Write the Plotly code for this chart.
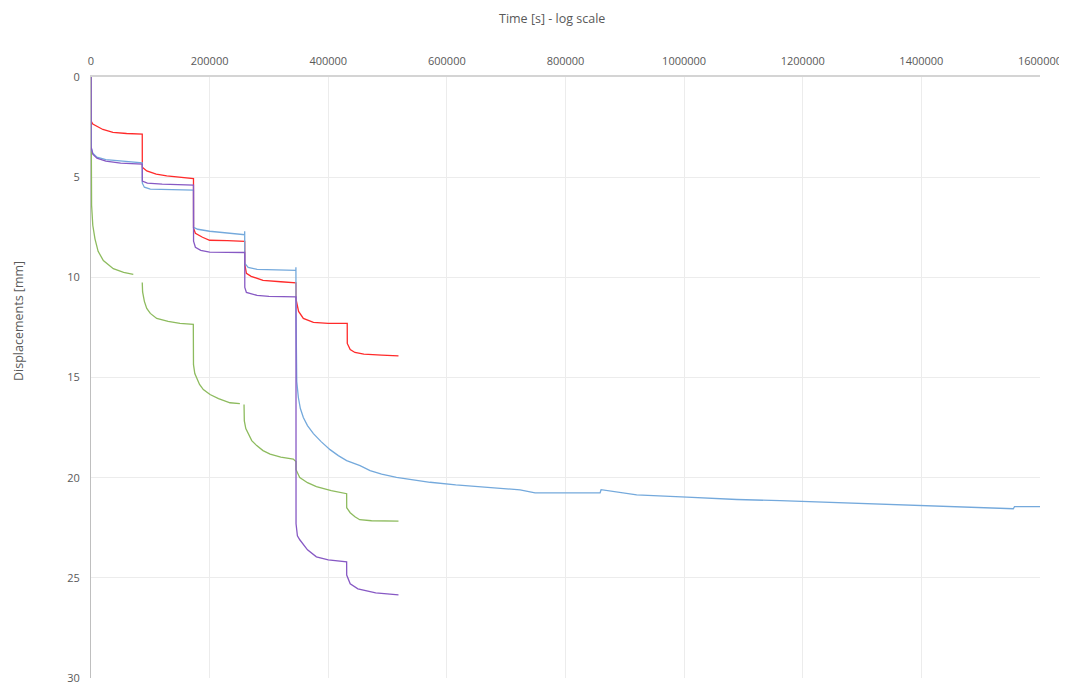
import plotly.graph_objects as go

# ---- data (time in s, displacement in mm) ----
t_green = [0, 100, 1000, 3000, 6700, 12000, 20800, 37600, 55000, 71300, None,
           86400, 87000, 90000, 94000, 100000, 110800, 130000, 150000, 172500,
           172800, 175000, 178200, 183000, 189400, 200700, 215000, 234400, 251000, None,
           258000, 258500, 261000, 265300, 271000, 279400, 290000, 302000, 320000, 341000, 345600,
           345700, 352000, 365000, 380000, 405000, 431000,
           431100, 434000, 437000, 445000, 453000, 473000, 518400]
d_green = [0, 3.6, 6.4, 7.4, 8.08, 8.7, 9.16, 9.57, 9.75, 9.85, None,
           10.26, 10.73, 11.2, 11.55, 11.8, 12.05, 12.2, 12.3, 12.35,
           14.36, 14.8, 15.02, 15.35, 15.6, 15.85, 16.05, 16.26, 16.3, None,
           16.35, 17.17, 17.55, 17.83, 18.15, 18.4, 18.65, 18.82, 18.97, 19.07, 19.2,
           19.6, 20.0, 20.25, 20.45, 20.65, 20.8,
           21.5, 21.65, 21.75, 21.95, 22.1, 22.15, 22.17]

t_red = [0, 200, 3000, 10000, 20000, 37000, 60000, 86400,
         86500, 94000, 110000, 127700, 150000, 172800,
         172900, 176000, 188000, 200000, 230000, 259200,
         259300, 262000, 270000, 290000, 320000, 345600,
         345700, 350000, 358000, 375000, 400000, 432000,
         432100, 437000, 445000, 460000, 490000, 518400]
d_red = [0, 2.2, 2.35, 2.45, 2.62, 2.76, 2.82, 2.85,
         4.5, 4.69, 4.85, 4.94, 5.0, 5.07,
         7.55, 7.8, 8.0, 8.15, 8.17, 8.2,
         9.35, 9.8, 9.95, 10.15, 10.22, 10.28,
         11.1, 11.7, 12.05, 12.25, 12.3, 12.3,
         13.3, 13.6, 13.75, 13.83, 13.88, 13.92]

t_blue = [0, 200, 3000, 10000, 25000, 50000, 86400,
          86500, 90000, 100000, 130000, 172800,
          172900, 180000, 200000, 230000, 259000, 259100,
          259300, 265000, 280000, 345400, 345500,
          345700, 346900, 349600, 353000, 358000, 365000, 375000, 388000, 403000, 417000, 431000,
          453600, 470500, 490000, 515000, 540000, 571700, 615000, 661600, 723400, 748700,
          858300, 860000, 920000, 1004600, 1089000, 1162000,
          1300000, 1450000, 1555000, 1557000, 1600000]
d_blue = [0, 3.5, 3.8, 4.0, 4.12, 4.2, 4.28,
          5.3, 5.5, 5.6, 5.63, 5.65,
          7.5, 7.6, 7.7, 7.8, 7.87, 7.7,
          9.3, 9.5, 9.6, 9.65, 9.5,
          12.0, 15.2, 16.0, 16.55, 17.0, 17.4, 17.8, 18.2, 18.6, 18.9, 19.15,
          19.4, 19.65, 19.82, 19.98, 20.1, 20.23, 20.36, 20.48, 20.61, 20.76,
          20.76, 20.6, 20.86, 20.97, 21.09, 21.15,
          21.3, 21.45, 21.55, 21.45, 21.45]

t_purple = [0, 200, 3000, 10000, 25000, 50000, 86400,
            86500, 95000, 120000, 172800,
            172900, 176000, 185000, 200000, 259200,
            259300, 262000, 280000, 300000, 345600,
            345700, 348000, 352000, 365000, 380000, 400000, 431000,
            431100, 437000, 450000, 480000, 518400]
d_purple = [0, 3.5, 3.85, 4.05, 4.2, 4.3, 4.35,
            5.2, 5.3, 5.35, 5.4,
            8.2, 8.5, 8.65, 8.74, 8.76,
            10.5, 10.75, 10.9, 10.95, 10.97,
            22.3, 22.9, 23.1, 23.6, 23.95, 24.1, 24.2,
            24.86, 25.3, 25.55, 25.75, 25.85]

x_ticks = [0, 200000, 400000, 600000, 800000, 1000000, 1200000, 1400000, 1600000]
y_ticks = [0, 5, 10, 15, 20, 25, 30]

series = [
    ("green", t_green, d_green, "#8dbb5e"),
    ("red", t_red, d_red, "#ff2a2a"),
    ("blue", t_blue, d_blue, "#74a9dc"),
    ("purple", t_purple, d_purple, "#8759c4"),
]

fig = go.Figure()
for name, t, d, c in series:
    fig.add_trace(go.Scatter(x=t, y=d, mode="lines", name=name,
                             line=dict(color=c, width=1.3),
                             connectgaps=False, showlegend=False))

font = dict(family="Open Sans, Liberation Sans, sans-serif", size=11, color="#595959")

# page body has an 8px margin, compensate so the plot area sits at
# x 91..1040 and y 77..678 in the window
fig.update_layout(
    width=1059, height=678,
    margin=dict(l=83, r=27, t=69, b=8, autoexpand=False),
    paper_bgcolor="white", plot_bgcolor="white",
    font=font,
    xaxis=dict(side="top", range=[0, 1600000], tickvals=x_ticks,
               ticktext=[str(v) for v in x_ticks],
               showgrid=True, gridcolor="#ececec", gridwidth=1,
               showline=True, linecolor="#d4d4d4", linewidth=2,
               ticks="", zeroline=False, tickfont=font, ticklabelstandoff=6,
               ticklabeloverflow="allow", automargin=False),
    yaxis=dict(range=[30, 0], tickvals=y_ticks,
               showgrid=True, gridcolor="#ececec", gridwidth=1,
               showline=True, linecolor="#bfbfbf", linewidth=1,
               ticks="", zeroline=False, tickfont=font, ticklabelstandoff=8,
               ticklabeloverflow="allow", automargin=False),
    annotations=[
        dict(text="Time [s] - log scale", xref="paper", yref="paper",
             x=(552 - 91) / 949, y=1 + (77 - 18) / 601, showarrow=False,
             xanchor="center", yanchor="middle", font=dict(font, size=12.5)),
        dict(text="Displacements [mm]", xref="paper", yref="paper",
             x=-(91 - 18) / 949, y=1 - (321 - 77) / 601, showarrow=False,
             textangle=-90, xanchor="center", yanchor="middle",
             font=dict(font, size=12.5)),
    ],
)

fig.write_html("out.html")
